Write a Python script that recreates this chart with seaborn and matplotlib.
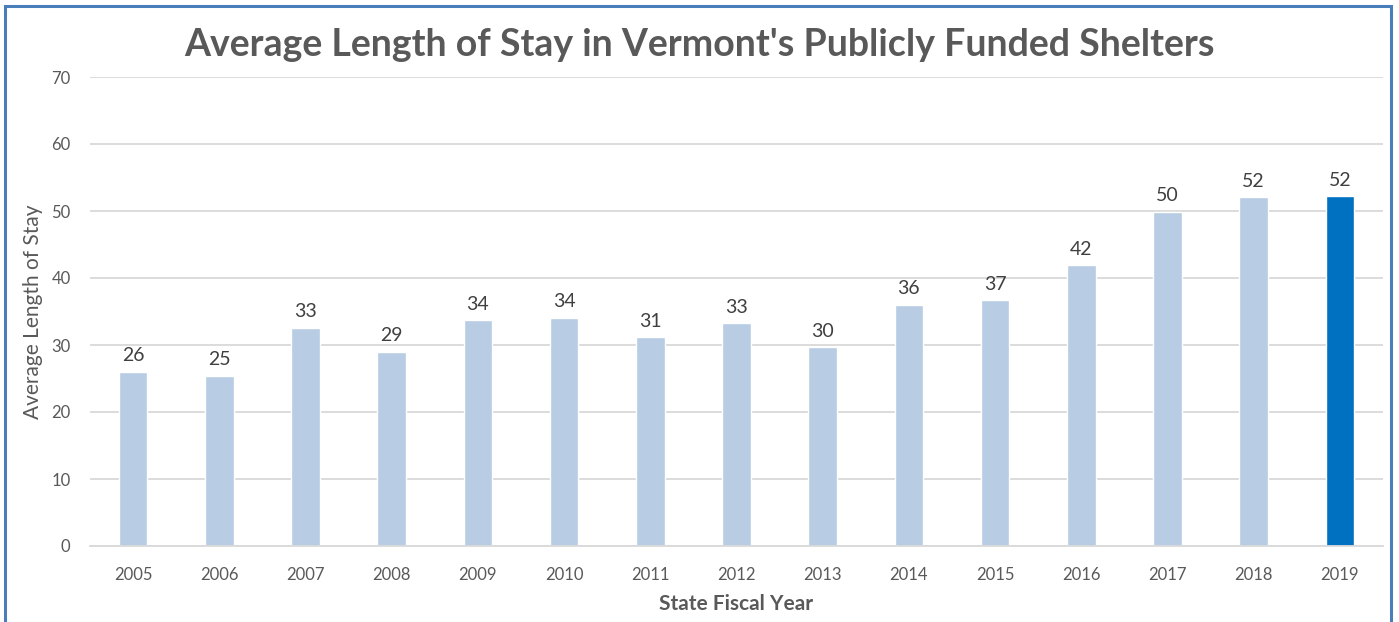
import matplotlib
matplotlib.use("Agg")
import matplotlib.pyplot as plt
import seaborn as sns
import pandas as pd
from matplotlib.patches import Rectangle

years = ["2005", "2006", "2007", "2008", "2009", "2010", "2011", "2012",
         "2013", "2014", "2015", "2016", "2017", "2018", "2019"]
avg_stay = [26.0, 25.4, 32.6, 29.0, 33.7, 34.1, 31.2, 33.3,
            29.7, 36.0, 36.7, 41.9, 49.9, 52.1, 52.2]
highlight_year = "2019"

LIGHT = "#b8cce4"
DARK = "#0070c0"
GREY = "#595959"

sns.set_theme(style="white")
plt.rcParams["font.family"] = ["Lato", "DejaVu Sans"]

df = pd.DataFrame({"year": years, "stay": avg_stay})
palette = {y: (DARK if y == highlight_year else LIGHT) for y in years}

fig = plt.figure(figsize=(13.99, 6.22), dpi=100)
ax = fig.add_axes([90 / 1399, 1 - 546 / 622, (1383 - 90) / 1399, (546 - 77) / 622])

sns.barplot(data=df, x="year", y="stay", hue="year", palette=palette,
            legend=False, width=0.33, ax=ax, saturation=1)

ax.set_ylim(0, 70)
ax.set_xlim(-0.5, len(years) - 0.5)
ax.set_yticks(range(0, 71, 10))
ax.yaxis.grid(True, color="#d9d9d9", linewidth=1.3)
ax.set_axisbelow(True)
for s in ["top", "right", "left"]:
    ax.spines[s].set_visible(False)
ax.spines["bottom"].set_color("#d9d9d9")
ax.spines["bottom"].set_linewidth(1.3)
ax.tick_params(axis="both", length=0, labelsize=12, colors=GREY)
ax.tick_params(axis="x", pad=15)
ax.tick_params(axis="y", pad=14)

for i, v in enumerate(avg_stay):
    ax.text(i, v + 1.1, f"{round(v):d}", ha="center", va="bottom",
            fontsize=14, color="#404040")

ax.set_xlabel("State Fiscal Year", fontsize=15, fontweight="bold", color=GREY, labelpad=8)
ax.set_ylabel("Average Length of Stay", fontsize=15, color=GREY, labelpad=6)

fig.text(0.5, 1 - 45 / 622, "Average Length of Stay in Vermont's Publicly Funded Shelters",
         ha="center", va="center", fontsize=27, fontweight="bold", color=GREY)

fig.patches.append(Rectangle((5 / 1399, -0.05), (1391 - 5) / 1399, 1.05 - 6 / 622,
                             transform=fig.transFigure, fill=False,
                             edgecolor="#4a7ebb", linewidth=2.2))

fig.savefig("out.png", dpi=100)
